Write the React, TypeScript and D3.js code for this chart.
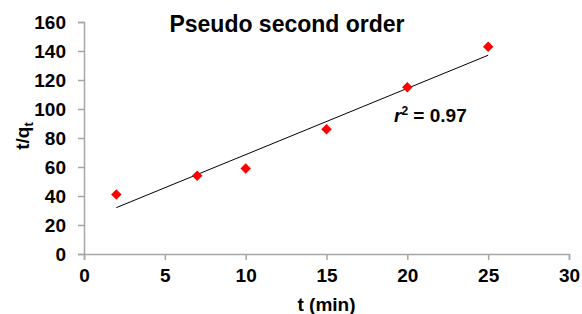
import React, { useEffect, useRef } from 'react';
import * as d3 from 'd3';

// data
const times = [2, 7, 10, 15, 20, 25];
const tOverQ = [41, 54, 59, 86, 115, 143];
const xTicks = [0, 5, 10, 15, 20, 25, 30];
const yTicks = [0, 20, 40, 60, 80, 100, 120, 140, 160];
const title = 'Pseudo second order';
const rSquared = '0.97';

const W = 582, H = 314;
const margin = { top: 22, right: 13, bottom: 60, left: 84 };

export default function App() {
  const ref = useRef<SVGSVGElement>(null);

  useEffect(() => {
    document.body.style.margin = '0';
    const svg = d3.select(ref.current);
    svg.selectAll('*').remove();

    const font = 'Liberation Sans, Arial, sans-serif';
    const x = d3.scaleLinear().domain([0, 30]).range([margin.left, W - margin.right]);
    const y = d3.scaleLinear().domain([0, 160]).range([H - margin.bottom, margin.top]);

    // axes
    const xAxis = svg.append('g')
      .attr('transform', `translate(0, ${y(0)})`)
      .call(d3.axisBottom(x).tickValues(xTicks).tickSizeOuter(0).tickSize(6).tickPadding(9));
    const yAxis = svg.append('g')
      .attr('transform', `translate(${x(0)}, 0)`)
      .call(d3.axisLeft(y).tickValues(yTicks).tickSizeOuter(0).tickSize(6).tickPadding(12));

    [xAxis, yAxis].forEach(a => {
      a.selectAll('path, line').attr('stroke', '#a6a6a6').attr('stroke-width', 1.5);
      a.selectAll('text')
        .attr('fill', '#000')
        .style('font-family', font)
        .style('font-weight', 'bold')
        .style('font-size', '19px');
    });

    // regression line
    const mx = d3.mean(times)!, my = d3.mean(tOverQ)!;
    const sxy = d3.sum(times, (t, i) => (t - mx) * (tOverQ[i] - my));
    const sxx = d3.sum(times, t => (t - mx) ** 2);
    const slope = sxy / sxx, intercept = my - slope * mx;
    const ends = d3.extent(times) as [number, number];
    svg.append('path')
      .datum(ends)
      .attr('d', d3.line<number>().x(d => x(d)).y(d => y(intercept + slope * d)))
      .attr('stroke', '#000')
      .attr('stroke-width', 1)
      .attr('fill', 'none');

    // points
    svg.selectAll('.pt')
      .data(times)
      .join('path')
      .attr('class', 'pt')
      .attr('d', d3.symbol(d3.symbolDiamond2, 70)())
      .attr('transform', (d, i) => `translate(${x(d)}, ${y(tOverQ[i])})`)
      .attr('fill', '#ff0000');

    // title
    svg.append('text')
      .attr('x', 287).attr('y', 32)
      .attr('text-anchor', 'middle')
      .style('font-family', font).style('font-weight', 'bold').style('font-size', '23px')
      .text(title);

    // r² label
    const r = svg.append('text')
      .attr('x', 394).attr('y', 122)
      .style('font-family', font).style('font-weight', 'bold').style('font-size', '19px');
    r.append('tspan').style('font-style', 'italic').text('r');
    r.append('tspan').attr('font-size', '12px').attr('dy', -7).text('2');
    r.append('tspan').attr('dy', 7).text(` = ${rSquared}`);

    // x label
    svg.append('text')
      .attr('x', x(15)).attr('y', 311)
      .attr('text-anchor', 'middle')
      .style('font-family', font).style('font-weight', 'bold').style('font-size', '19px')
      .text('t (min)');

    // y label
    const yl = svg.append('text')
      .attr('transform', `translate(29, ${y(80) - 2}) rotate(-90)`)
      .attr('text-anchor', 'middle')
      .style('font-family', font).style('font-weight', 'bold').style('font-size', '19px');
    yl.append('tspan').text('t/q');
    yl.append('tspan').attr('font-size', '13px').attr('dy', 4).text('t');
  }, []);

  return <svg ref={ref} width={W} height={H} style={{ display: 'block', background: '#fff' }} />;
}
